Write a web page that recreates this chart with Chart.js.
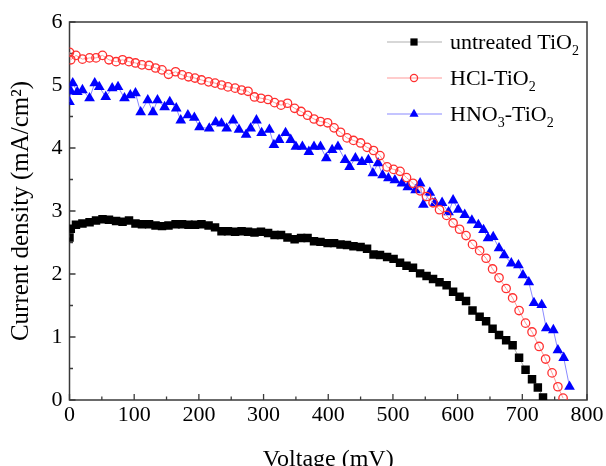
<!DOCTYPE html>
<html><head><meta charset="utf-8">
<script src="https://cdn.jsdelivr.net/npm/chart.js@4.4.1/dist/chart.umd.min.js"></script>
<style>html,body{margin:0;padding:0;background:#fff}#wrap{width:606px;height:466px}</style>
</head><body><div id="wrap"><canvas id="c" width="606" height="466"></canvas></div>
<script>
// ---- Data (voltage in mV, current density in mA/cm2) ----
const untreatedV = [0,2,10,20,31,41,51,61,72,82,92,102,112,123,133,143,153,164,174,184,194,204,215,225,235,245,256,266,276,286,296,307,317,327,337,348,358,368,378,388,399,409,419,429,439,450,460,470,480,491,501,511,521,531,542,552,562,572,583,593,603,613,623,634,644,654,664,675,685,695,705,715,724,732];
const untreatedJ = [2.58,2.72,2.78,2.80,2.82,2.85,2.87,2.86,2.84,2.83,2.85,2.80,2.79,2.79,2.77,2.76,2.77,2.79,2.79,2.78,2.78,2.79,2.77,2.74,2.68,2.68,2.67,2.68,2.67,2.66,2.67,2.65,2.62,2.62,2.58,2.55,2.57,2.57,2.52,2.51,2.49,2.49,2.47,2.46,2.44,2.43,2.40,2.31,2.30,2.27,2.24,2.18,2.13,2.10,2.01,1.97,1.92,1.87,1.82,1.72,1.64,1.57,1.42,1.32,1.25,1.13,1.03,0.95,0.87,0.67,0.48,0.33,0.20,0.04];
const hclV = [0,2,10,20,31,41,51,61,72,82,92,102,112,123,133,143,153,164,174,184,194,204,215,225,235,245,256,266,276,286,296,307,317,327,337,348,358,368,378,388,399,409,419,429,439,450,460,470,480,491,501,511,521,531,542,552,562,572,583,593,603,613,623,634,644,654,664,675,685,695,705,715,726,736,746,755,763];
const hclJ = [5.52,5.40,5.47,5.41,5.43,5.43,5.47,5.40,5.37,5.40,5.37,5.35,5.32,5.31,5.27,5.24,5.17,5.21,5.16,5.13,5.11,5.08,5.05,5.03,5.00,4.97,4.95,4.92,4.90,4.81,4.79,4.77,4.72,4.68,4.71,4.63,4.58,4.52,4.46,4.42,4.40,4.32,4.25,4.16,4.12,4.08,4.01,3.96,3.88,3.70,3.66,3.63,3.53,3.44,3.32,3.23,3.13,3.02,2.93,2.81,2.71,2.61,2.47,2.37,2.25,2.08,1.94,1.77,1.62,1.42,1.22,1.08,0.85,0.65,0.43,0.21,0.03];
const hno3V = [0,2,5,12,20,31,39,46,56,66,75,85,94,102,110,121,129,136,147,155,165,172,183,193,201,216,226,235,243,253,262,273,280,289,297,309,316,324,334,342,350,360,370,378,388,397,406,415,426,433,442,452,462,469,477,484,493,503,514,523,535,542,547,557,565,576,586,593,601,611,622,632,640,647,655,664,672,683,694,701,710,718,730,737,748,755,764,773];
const hno3J = [4.73,4.90,5.03,4.89,4.92,4.79,5.03,4.97,4.81,4.95,4.97,4.79,4.84,4.87,4.57,4.76,4.57,4.76,4.65,4.73,4.63,4.44,4.52,4.48,4.33,4.31,4.41,4.39,4.31,4.44,4.29,4.21,4.31,4.44,4.24,4.29,4.05,4.13,4.24,4.13,4.02,4.02,3.94,4.02,4.02,3.84,3.97,4.02,3.81,3.70,3.84,3.78,3.81,3.60,3.76,3.57,3.52,3.49,3.44,3.38,3.33,3.44,3.10,3.29,3.13,3.13,2.98,3.17,3.02,2.94,2.85,2.78,2.70,2.57,2.59,2.41,2.30,2.17,2.14,1.98,1.87,1.54,1.51,1.14,1.11,0.79,0.67,0.21];
const xTicks = [0,100,200,300,400,500,600,700,800];
const xMinorTicks = [50,150,250,350,450,550,650,750];
const yTicks = [0,1,2,3,4,5,6];
const yMinorTicks = [0.5,1.5,2.5,3.5,4.5,5.5];
const legendLabels = [
  [{t:'untreated TiO'},{t:'2',sub:true}],
  [{t:'HCl-TiO'},{t:'2',sub:true}],
  [{t:'HNO'},{t:'3',sub:true},{t:'-TiO'},{t:'2',sub:true}]
];

const SERIF = "'Liberation Serif','Times New Roman',serif";
const AXIS_COLOR = '#3a3a3a';

function pts(v, j){ return v.map((x,i)=>({x:x, y:j[i]})); }

const styles = [
  {pointStyle:'rect', radius:6.0, bg:'#000000', bc:'#000000', bw:0, line:'#b0b0b0'},
  {pointStyle:'circle', radius:4.2, bg:'rgba(255,255,255,0)', bc:'#ff3030', bw:1.3, line:'#ff9a9a'},
  {pointStyle:'triangle', radius:6.2, bg:'#0000ff', bc:'#0000ff', bw:0, line:'#8a8aff'}
];
const dataSets = [pts(untreatedV, untreatedJ), pts(hclV, hclJ), pts(hno3V, hno3J)];

const frameTicks = {
  id:'frameTicks',
  beforeDatasetsDraw(chart){
    const {ctx, chartArea:a, scales:{x, y}} = chart;
    ctx.save();
    ctx.strokeStyle = AXIS_COLOR;
    ctx.lineWidth = 1.5;
    ctx.strokeRect(a.left, a.top, a.right - a.left, a.bottom - a.top);
    ctx.lineWidth = 1.3;
    ctx.beginPath();
    xTicks.forEach(v=>{ const px = x.getPixelForValue(v); ctx.moveTo(px, a.bottom); ctx.lineTo(px, a.bottom - 6); });
    xMinorTicks.forEach(v=>{ const px = x.getPixelForValue(v); ctx.moveTo(px, a.bottom); ctx.lineTo(px, a.bottom - 3.5); });
    yTicks.forEach(v=>{ const py = y.getPixelForValue(v); ctx.moveTo(a.left, py); ctx.lineTo(a.left + 6, py); });
    yMinorTicks.forEach(v=>{ const py = y.getPixelForValue(v); ctx.moveTo(a.left, py); ctx.lineTo(a.left + 3.5, py); });
    ctx.stroke();
    ctx.restore();
  }
};

function drawMarker(ctx, st, x, y){
  const opts = {pointStyle: st.pointStyle, radius: st.radius, rotation: 0, borderWidth: st.bw};
  ctx.save();
  ctx.fillStyle = st.bg; ctx.strokeStyle = st.bc; ctx.lineWidth = st.bw;
  Chart.helpers.drawPoint(ctx, opts, x, y);
  ctx.restore();
}

const customLegend = {
  id:'customLegend',
  afterDraw(chart){
    const ctx = chart.ctx;
    const rows = [42, 78, 114];
    ctx.save();
    rows.forEach((ry, i)=>{
      const st = styles[i];
      ctx.strokeStyle = st.line; ctx.lineWidth = 1.2;
      ctx.beginPath(); ctx.moveTo(387, ry); ctx.lineTo(442, ry); ctx.stroke();
      drawMarker(ctx, Object.assign({}, st, {radius: st.radius * 0.85}), 414, ry);
      let tx = 450;
      ctx.fillStyle = '#000'; ctx.textBaseline = 'alphabetic'; ctx.textAlign = 'left';
      legendLabels[i].forEach(p=>{
        ctx.font = (p.sub ? '14px ' : '22px ') + SERIF;
        const yy = ry + 7 + (p.sub ? 6 : 0);
        ctx.fillText(p.t, tx, yy);
        tx += ctx.measureText(p.t).width;
      });
    });
    ctx.restore();
  }
};

new Chart(document.getElementById('c'), {
  type:'line',
  data:{
    datasets: dataSets.map((d,i)=>({
      label: legendLabels[i].map(p=>p.t).join(''),
      data: d,
      showLine: true,
      borderColor: styles[i].line,
      borderWidth: 1,
      pointStyle: styles[i].pointStyle,
      pointRadius: styles[i].radius,
      pointHoverRadius: styles[i].radius,
      pointBackgroundColor: styles[i].bg,
      pointBorderColor: styles[i].bc,
      pointBorderWidth: styles[i].bw,
      tension: 0,
      clip: 0
    }))
  },
  options:{
    responsive:false,
    devicePixelRatio:1,
    animation:false,
    layout:{padding:{top:22, right:19, left:0, bottom:0}},
    plugins:{legend:{display:false}, tooltip:{enabled:false}},
    scales:{
      x:{
        type:'linear', min:0, max:800,
        afterFit(s){ s.height = 66; },
        afterBuildTicks(s){ s.ticks = xTicks.map(v=>({value:v})); },
        ticks:{color:'#000', font:{family:SERIF, size:22}, padding:2, maxRotation:0, autoSkip:false},
        grid:{display:false, drawTicks:false},
        border:{display:false},
        title:{display:true, text:'Voltage (mV)', color:'#000', font:{family:SERIF, size:24}, padding:{top:0, bottom:-8}}
      },
      y:{
        min:0, max:6,
        afterFit(s){ s.width = 69.5; },
        afterBuildTicks(s){ s.ticks = yTicks.map(v=>({value:v})); },
        ticks:{color:'#000', font:{family:SERIF, size:22}, padding:7},
        grid:{display:false, drawTicks:false},
        border:{display:false},
        title:{display:true, text:'Current density (mA/cm²)', color:'#000', font:{family:SERIF, size:25}, padding:{top:6, bottom:0}}
      }
    }
  },
  plugins:[frameTicks, customLegend]
});
</script></body></html>
